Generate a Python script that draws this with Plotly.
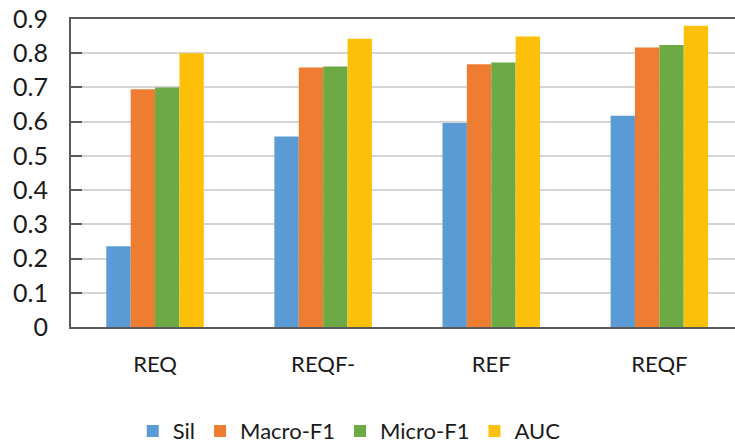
import plotly.graph_objects as go

# Clustering / classification scores per feature set
categories = ["REQ", "REQF-", "REF", "REQF"]
sil = [0.236, 0.557, 0.596, 0.617]
macro_f1 = [0.695, 0.758, 0.768, 0.817]
micro_f1 = [0.700, 0.761, 0.773, 0.824]
auc = [0.800, 0.842, 0.849, 0.880]

series = [
    ("Sil", sil, "#5B9BD5"),
    ("Macro-F1", macro_f1, "#EE7D31"),
    ("Micro-F1", micro_f1, "#6DAA45"),
    ("AUC", auc, "#FDC10C"),
]

FONT = "Lato, 'Open Sans', sans-serif"

fig = go.Figure()
for name, vals, color in series:
    fig.add_trace(go.Bar(
        x=categories, y=vals, name=name,
        marker=dict(color=color, line=dict(width=0)),
    ))

fig.update_layout(
    width=735, height=447,
    margin=dict(l=71, r=0, t=19, b=120, autoexpand=False),
    paper_bgcolor="white", plot_bgcolor="white",
    barmode="group", bargap=0.42, bargroupgap=0,
    font=dict(family=FONT, color="#1a1a1a"),
    showlegend=True,
    legend=dict(
        orientation="h", x=0.093, xanchor="left", y=-0.338, yanchor="middle",
        font=dict(size=22, color="#1a1a1a", family=FONT),
        itemwidth=30, traceorder="normal",
        bgcolor="rgba(0,0,0,0)",
    ),
    xaxis=dict(
        range=[-0.5, 3.45],
        showline=True, linecolor="#5a5a5a", linewidth=2, mirror=True,
        showgrid=False, ticks="",
        tickfont=dict(size=22, family=FONT, color="#1a1a1a"),
        ticklabelstandoff=17,
    ),
    yaxis=dict(
        range=[0, 0.9], dtick=0.1, tick0=0,
        tickformat="~g",
        showline=True, linecolor="#5a5a5a", linewidth=2,
        showgrid=True, gridcolor="#d4d4d4", gridwidth=1.5,
        zeroline=False,
        ticks="inside", ticklen=11, tickwidth=2, tickcolor="#5a5a5a",
        tickfont=dict(size=25, family=FONT, color="#1a1a1a"),
        ticklabelstandoff=16,
    ),
)

fig.write_html("out.html")
